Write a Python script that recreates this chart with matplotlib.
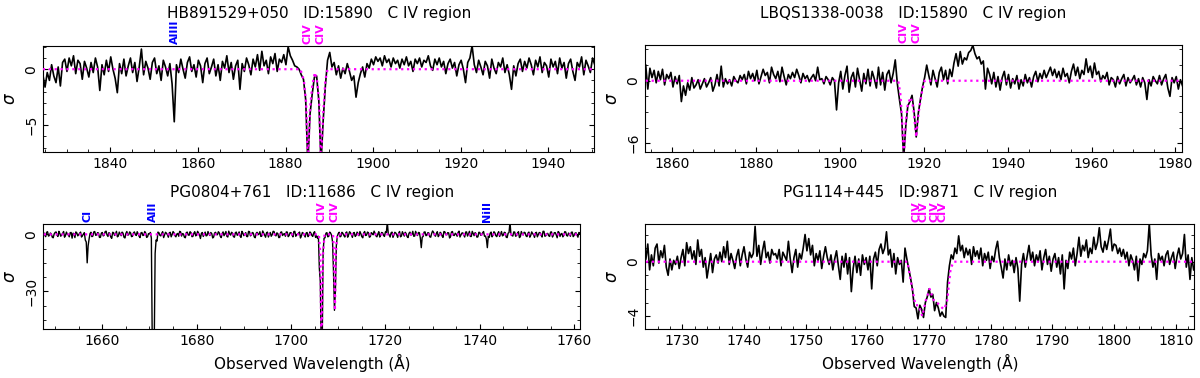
import numpy as np
import matplotlib
matplotlib.use('Agg')
import matplotlib.pyplot as plt
from matplotlib.ticker import MultipleLocator, AutoMinorLocator
import matplotlib.transforms as mtransforms

# HB891529+050 (top left), sampled every 0.5 A from 1824.6
tl_start, tl_step = 1824.6, 0.5
tl_flux = [-0.5, -1.6, -0.3, -1.0, 0.4, -0.6, -1.2, 0.2, -1.5, 0.6,
           0.9, -0.2, 1.0, 0.3, 1.2, -0.4, 0.8, 0.5, -0.9, 0.7,
           0.1, -0.7, 0.6, -0.3, 1.0, 0.2, -1.9, 0.4, -0.5, 0.8,
           -0.2, 1.1, 0.0, -0.8, -2.1, 0.5, -0.4, 0.9, -0.6, 0.3,
           1.0, -0.3, 0.6, -1.1, 0.2, 1.8, -0.5, 0.7, 0.1, -0.9,
           0.6, 1.0, -0.4, 0.3, -1.0, 0.8, 0.2, -0.6, 0.5, -1.3,
           -4.7, 0.4, -0.3, 0.9, 0.0, -0.8, 0.6, 1.1, -0.2, 0.4,
           -0.7, 0.8, 0.3, -1.2, 0.5, 1.0, -0.4, 0.2, 0.9, -0.6,
           0.4, -1.0, 0.7, 0.1, 1.2, -0.3, 0.6, -0.9, 0.3, 0.8,
           -1.8, 0.5, -0.2, 1.0, 0.4, -0.5, 0.9, 0.2, 1.3, -0.1,
           1.6, 0.3, 0.8, -0.4, 1.1, 0.5, 1.4, -0.2, 0.9, 0.6,
           1.3, 0.4, 2.0, 1.2, 0.8,
           0.3, 0.2, 0.0, -0.5, -0.9, -2.7, -8.5, -4.0, -2.2, -0.7,
           -0.6, -2.8, -8.5, -4.6, -1.5, 0.8, 1.5, 0.2,
           0.6, -0.5, 0.3, -0.8, 0.1, -0.4, 0.5, -0.2, -1.0, -0.6,
           -2.5, -1.2, -0.4, 0.2, -0.7, 0.5, 0.1, 0.9, 0.4, 1.1,
           0.7, 1.0, 0.3, 1.2, 0.6, 0.9, 0.2, 1.0, 0.5, 0.8,
           0.1, 0.9, 0.4, 1.1, 0.3, 0.7, -0.2, 0.9, 0.5, 1.0,
           0.2, 0.8, 0.6, 1.2, 0.3, -0.1, 0.9, 0.4, 1.0, 0.2,
           0.7, -0.4, 0.5, 0.9, 0.1, 0.6, -0.6, 0.4, 0.8, 0.0,
           -1.2, 0.6, 1.0, 2.1, 0.4, -0.3, 0.8, 0.2, -0.5, 0.7,
           0.3, -0.8, 0.9, 0.1, -0.4, 0.6, 0.2, 1.0, -0.3, 0.4,
           -0.5, -1.8, 0.3, -0.6, 0.5, 0.9, -0.2, 0.7, 0.1, 1.0,
           0.4, -0.5, 0.8, 0.2, 1.1, -0.3, 0.6, 0.3, -0.7, 0.9,
           0.2, 0.7, -0.4, 1.0, 0.1, 0.6, -0.8, 0.5, 0.9, -0.2,
           -1.0, 0.6, 0.2, 1.1, -0.5, 0.8, 0.3, -0.3, 1.0, 0.4]
tl_fit_x = [1824.6, 1883.4, 1884.2, 1884.7, 1885.1, 1885.6, 1886.1, 1886.7,
            1887.3, 1887.7, 1888.1, 1888.6, 1889.1, 1889.6, 1950.6]
tl_fit_y = [0, 0, -1.0, -3.0, -8.5, -3.5, -1.5, -0.3,
            -1.2, -3.2, -8.5, -4.0, -1.0, 0, 0]

# LBQS1338-0038 (top right), every 0.5 A from 1853.7
tr_start, tr_step = 1853.7, 0.5
tr_flux = [1.5, -0.8, 1.2, 0.3, 1.0, -0.2, 0.9, 0.1, 1.1, -0.4,
           0.6, 0.2, 0.8, -0.6, 0.4, -0.3, 0.5, -2.0, -0.5, -1.4,
           -0.2, -0.9, 0.3, -0.7, -0.4, 0.1, -0.8, -0.3, 0.2, -0.6,
           -0.2, 0.3, -1.0, -0.4, 0.6, -0.5, 1.4, -0.6, 0.2, -0.3,
           0.1, -0.5, 0.4, 0.0, -0.2, 0.5, 0.1, 0.6, -0.3, 0.9,
           0.2, 0.7, 0.0, 1.0, -0.3, 0.4, 1.1, 0.5, 0.8, -0.2,
           1.3, 0.6, 0.2, 0.9, -0.1, 1.3, 0.4, -0.4, 0.6, 0.2,
           0.8, 0.3, 1.1, 0.5, -0.2, 0.7, 0.2, 0.5, -0.1, 0.3,
           0.6, 0.0, 1.3, 0.1, 0.2, -0.3, 0.4, 0.1, -0.4, 0.3,
           0.0, -2.8, -0.2, 0.9, -0.8, 0.5, 1.4, -1.1, 0.3, 0.8,
           -0.6, 1.2, 0.1, -1.0, 0.7, -0.3, 1.1, -0.5, 0.9, 0.2,
           -0.7, 1.3, -0.4, 0.8, -0.9, 0.6, 1.0, -0.2, 0.7, 2.0,
           -0.3, -1.8, -3.2, -7.5, -4.4, -2.4, -2.0, -1.4, -3.0, -5.4,
           -3.1, -1.8, -0.6, 0.3, 1.5,
           0.5, -0.4, 1.0, 0.2, -0.6, 0.8, 1.3, 0.1, 1.0, -0.3,
           1.1, 0.4, 1.7, 2.6, 1.4, 2.8, 1.6, 2.2, 2.0, 2.7,
           2.9, 3.4, 2.6, 2.1, 2.3, 1.6, 1.9, -0.8, 1.2, 0.6,
           -0.3, 0.8, -0.6, 0.4, -0.9, 0.3, 0.9, -0.4, 0.6, -0.7,
           0.2, -0.3, 0.5, -0.8, 0.1, -0.5, 0.6, -0.2, 0.3, -0.6,
           0.4, 0.9, -0.1, 0.7, 0.2, 1.0, 0.3, 0.8, 1.3, 0.5,
           1.1, 0.3, 0.9, 0.1, 1.2, 0.4, 0.7, -0.2, 0.9, 1.6,
           0.5, 1.3, 0.2, 1.0, 0.6, 2.1, 0.8, 1.4, 0.3, 1.7,
           0.6, 0.9, -0.1, 0.5, 0.2, 0.8, -0.4, 0.3, 0.1, -0.6,
           0.4, -0.3, 0.2, 0.6, -0.5, 0.3, -0.2, 0.1, 0.5, -0.4,
           0.2, -0.6, 0.3, -0.2, -1.8, 0.1, -0.5, 0.4, 0.0, -0.3,
           0.5, -0.4, 0.2, 0.6, -0.7, -1.5, 0.3, -0.2, 0.4, -0.8, 0.1, -0.5]
tr_fit_x = [1853.7, 1913.9, 1914.4, 1914.8, 1915.2, 1915.7, 1916.2, 1916.9,
            1917.5, 1918.2, 1918.8, 1919.5, 1920.2, 1981.7]
tr_fit_y = [0, 0, -1.2, -3.5, -7.5, -4.0, -2.2, -1.6,
            -2.6, -5.4, -3.0, -1.2, 0, 0]

# PG0804+761 (bottom left), every 0.2 A from 1647.6:
# bl_flux_a holds 1647.6, 1648.0, ... and bl_flux_b the points in between
bl_start, bl_step = 1647.6, 0.2
bl_flux_a = [0.8, -1.2, 1.4, -0.6, 0.3, -1.8, 1.0, -0.4, 1.6, -1.0,
             0.5, -1.5, 1.2, -0.2, 0.9, -2.0, 0.4, 1.3, -0.8, 0.6,
             -1.4, 0.2, -3.0, -15.0, -2.5, 1.1, -0.9, 1.5, -0.3, 0.7,
             -1.6, 1.0, -0.5, 1.7, -1.1, 0.4, -2.1, 0.9, 0.1, -1.3,
             1.2, -0.7, 0.6, -1.9, 1.5, -0.2, 0.8, -1.0, 1.3, -0.6,
             0.3, -1.7, 1.0, -0.4, 0.7, -1.2, 0.2, -2.0, -60.0, -10.0,
             -3.5, 0.9, -0.8, 1.4, -0.3, 0.6, -1.5, 1.1, -0.1, 0.8,
             -1.3, 0.5, 1.6, -0.9, 0.2, -1.8, 1.2, -0.5, 0.9, -1.1,
             1.4, -0.3, 0.7, -2.2, 1.0, 0.1, -0.8, 1.5, -0.6, 0.4,
             -1.4, 1.1, -0.2, 0.8, -1.7, 1.3, 0.3, -1.0, 1.7, -0.4,
             0.6, -1.5, 1.2, 0.0, -0.9, 1.6, -0.7, 0.9, -1.2, 1.4,
             -0.3, 0.7, -1.8, 1.1, 0.2, -1.1, 1.8, -0.5, 0.8, -1.4,
             1.0, -0.2, 1.5, -0.8, 0.4, -1.6, 1.3, 0.1, -1.0, 1.2,
             -0.6, 0.9, -1.3, 1.6, -0.1, 0.6, -1.9, 1.0, -0.4, 0.7,
             -1.2, 1.3, -0.5, 0.8, -1.6, -2.0, -18.0, -60.0, -9.0, -1.8,
             0.9, -1.0, 0.6, -4.0, -40.0, -6.0, 0.4, -1.3, 1.1, -0.6,
             0.8, -1.5, 1.4, -0.2, 0.7, -1.1, 1.2, -0.7, 0.3, -1.8,
             1.5, -0.4, 0.9, -1.2, 0.5, 1.7, -0.8, 0.2, -1.4, 1.0,
             -0.5, 1.3, 6.5, -0.3, 0.8, -1.6, 1.1, -0.2, 0.6, -1.3,
             1.4, -0.9, 0.4, -1.7, 1.2, 0.0, -1.0, 1.6, -0.6, 0.9,
             -7.0, -1.1, 1.3, -0.4, 0.7, -1.5, 1.8, -0.3, 0.5, -1.2,
             1.1, -0.8, 1.5, -0.1, 0.9, -1.9, 1.2, -0.5, 0.6, -1.0,
             1.7, -0.3, 0.8, -1.4, 1.3, 0.2, -1.1, 1.6, -0.7, 0.4,
             -1.3, 1.0, -0.2, 1.5, -0.9, -7.0, -1.6, 1.2, -0.4, 0.8,
             -1.2, 1.4, 0.1, -0.8, 1.1, -1.5, 0.6, 6.5, -0.6, 1.3,
             -1.0, 0.7, -1.7, 1.5, -0.3, 0.9, -1.2, 1.2, -0.5, 0.4,
             -1.6, 1.1, -0.1, 0.8, -1.4, 1.6, -0.7, 0.5, -1.1, 1.3,
             -0.4, 0.9, -1.8, 1.0, 0.2, -1.3, 1.4, -0.6, 0.7, -1.0,
             1.2, -0.5, 0.8, -1.5, 0.6]
bl_flux_b = [-0.4, 1.1, -0.9, 0.7, -1.5, 0.2, 1.3, -1.1, 0.5, -0.3,
             1.5, -0.6, 0.1, -1.3, 1.0, 0.6, -1.7, 0.8, -0.2, 1.2,
             -0.7, 0.9, -4.0, -6.0, 0.4, -1.2, 1.3, -0.5, 0.9, -1.6,
             0.6, -0.8, 1.4, -0.3, 0.9, -1.4, 1.1, -0.6, 1.6, -0.9,
             0.3, 1.2, -1.5, 0.5, -0.4, 1.3, -1.2, 0.7, 0.0, 1.4,
             -1.0, 0.8, -0.6, 1.5, -1.6, 0.4, 1.0, -60.0, -60.0, -3.0,
             1.2, -0.5, 0.6, -1.7, 1.1, -0.2, 0.8, -1.3, 1.5, -0.7,
             0.2, -1.0, 1.3, 0.4, -1.5, 0.9, -0.3, 1.4, -1.2, 0.6,
             -0.8, 1.6, -0.4, 0.5, -1.1, 1.2, -0.6, 0.3, 1.0, -1.9,
             0.7, -0.1, 1.4, -1.0, 0.4, -0.7, 1.5, -1.4, 0.2, 1.1,
             -1.2, 0.9, -0.5, 1.3, -1.6, 0.6, 0.1, -1.1, 1.6, -0.8,
             1.0, -1.3, 0.5, -0.2, 1.4, -0.9, 0.7, -1.5, 1.2, 0.0,
             -1.0, 1.6, -0.4, 0.8, -1.7, 1.1, -0.6, 0.4, 1.3, -1.2,
             0.9, -0.3, 1.5, -1.0, 0.2, 1.2, -0.8, 0.6, -1.4, 1.0,
             -0.5, 0.7, -1.1, 1.4, -0.7, -1.0, -25.0, -60.0, -2.0, 0.6,
             -1.3, 1.2, -0.5, -20.0, -30.0, -1.0, 1.1, -0.9, 0.5, -1.4,
             1.3, -0.3, 0.8, -1.6, 1.0, -0.5, 0.4, 1.5, -1.2, 0.7,
             -0.6, 1.2, -1.5, 0.9, -0.2, 0.6, -1.3, 1.4, -0.4, 0.8,
             -1.1, 1.0, 0.5, -1.4, 1.2, -0.3, 0.7, -1.6, 1.5, -0.8,
             0.3, 1.1, -1.2, 0.6, -0.4, 1.6, -0.9, 0.2, 1.0, -2.0,
             -1.5, 1.2, -0.7, 0.9, -1.3, 0.5, 1.1, -1.0, 1.4, -0.4,
             0.6, -1.6, 1.3, -0.2, 0.8, -1.2, 1.5, -0.6, 0.1, 1.0,
             -1.4, 0.7, -0.3, 1.2, -0.9, 1.6, -1.1, 0.4, 0.9, -1.5,
             1.1, -0.5, 0.8, -1.0, -2.5, -1.0, 0.6, -1.3, 1.4, -0.7,
             0.5, -1.1, 1.5, -0.4, 0.9, -1.7, 1.0, 0.0, -0.9, 1.2,
             -0.6, 1.4, -1.2, 0.3, 1.1, -0.8, 0.6, -1.5, 1.3, -0.2,
             0.8, -1.3, 1.0, -0.5, 1.6, -1.0, 0.4, -0.7, 1.2, -1.4,
             0.9, -0.3, 1.5, -1.1, 0.5, -0.6, 1.3, -0.9, 0.2, 1.1,
             -1.2, 0.7, -0.4, 1.0]
bl_fit_x = [1647.6, 1705.9, 1706.2, 1706.45, 1706.8, 1707.1,
            1708.9, 1709.1, 1709.3, 1709.5, 1709.8, 1761.2]
bl_fit_y = [0, 0, -10.0, -60.0, -10.0, 0,
            0, -10.0, -40.0, -10.0, 0, 0]

# PG1114+445 (bottom right), every 0.3 A from 1724.1
br_start, br_step = 1724.1, 0.3
br_flux = [0.2, 1.3, -0.6, 0.5, -0.3, 1.0, 1.3, -0.1, 0.8, 0.3,
           1.2, -0.4, -1.0, 0.2, -0.6, 0.1, -0.2, 0.4, -0.5, 0.3,
           0.9, -0.3, 1.4, 0.6, 1.1, 0.2, 0.8, -0.2, 1.6, 0.4,
           0.9, -0.4, 0.3, -1.2, -0.3, 0.6, -0.8, 0.2, 0.5, -0.1,
           0.7, 0.0, 1.1, 0.3, 1.5, -0.2, 0.6, 0.1, -0.5, 0.4,
           0.9, -0.3, 0.5, 1.1, 0.2, -0.4, 0.7, 0.3, 0.6, 2.6,
           0.4, 1.2, -0.2, 0.8, 1.5, 0.3, 0.7, -0.1, 0.9, 0.5,
           0.6, 0.2, 0.9, -0.3, 0.7, 0.4, 0.1, 1.5, 0.2, -0.8,
           0.3, 0.9, -0.4, 0.6, 0.2, 1.0, 2.0, 0.8, 1.7, 0.5,
           1.2, -0.3, 0.6, 0.1, 0.8, -0.5, 0.4, 1.1, 0.3, -0.2,
           0.5, -0.6, 0.2, 0.8, -0.3, -1.3, 0.4, -0.4, 0.6, -0.9,
           0.3, -2.2, -0.5, 0.4, -0.8, 0.2, -1.0, 0.5, -0.2, 0.3,
           -0.6, 0.4, -2.0, 0.2, 0.7, -0.3, 0.9, 1.3, 0.6, 1.0,
           2.2, 0.5, 0.9, -0.4, 0.6, -0.9, 0.3, -0.2, 0.1, -1.5,
           1.0, 0.2, -0.5, -1.2, -2.0, -3.3, -3.4, -4.2, -3.2, -3.5,
           -4.1, -3.0, -2.6, -2.0, -2.6, -2.4, -3.6, -3.0, -3.4, -4.0,
           -3.7, -4.0, -4.1, -1.5, -0.3, 0.5, 0.2, 1.0, 0.6, 1.9,
           0.8, 1.2, 0.3, 1.0, 0.5, 0.9, -0.2, 1.1, 0.4, 0.8,
           0.2, 1.0, -0.3, 0.6, 0.1, 0.7, -0.5, 0.4, 0.0, 0.9,
           1.5, 0.3, -0.4, -1.2, 0.2, -0.6, 0.5, -0.3, 0.1, -0.8,
           0.3, -0.5, -2.9, -0.2, 0.6, -0.4, 0.4, 1.2, 0.1, 0.7,
           -0.3, 0.5, 0.0, 0.8, -0.6, 0.3, 0.9, -0.2, 0.4, -0.7,
           0.2, 0.6, -0.4, 0.3, -0.9, 0.5, -2.0, 0.1, -0.5, 0.7,
           0.2, 1.0, -0.3, 0.6, 1.8, 0.4, 1.2, 0.8, 1.6, 0.3,
           1.0, 0.6, 1.8, 0.9, 1.4, 2.5, 1.1, 0.7, 1.5, 0.9,
           1.6, 2.4, 0.8, 1.3, 1.2, 0.6, 1.0, 0.4, 0.9, 0.2,
           0.7, -0.3, 0.5, 0.1, -0.6, 0.4, -1.4, 0.2, -0.2, 0.6,
           0.3, 0.8, 2.8, 0.5, -0.4, 0.2, -1.3, 0.6, 0.1, 0.4,
           -0.3, 0.5, 0.8, -0.2, 0.3, 0.7, -0.5, 0.4, 1.0, 0.2,
           0.6, 2.0, -0.4, 0.5, -1.3, 0.3, -0.6]
br_fit_x = [1724.1, 1766.5, 1767.2, 1767.8, 1768.3, 1768.9, 1769.5, 1770.1,
            1770.7, 1771.3, 1771.9, 1772.4, 1772.9, 1773.5, 1774.0, 1812.9]
br_fit_y = [0, 0, -1.8, -3.2, -3.2, -4.0, -2.8, -2.0,
            -2.8, -3.0, -3.3, -3.5, -3.0, -0.5, 0, 0]

# line identifications (wavelength, name, colour)
tl_lines = [(1854.7, 'AlIII', 'blue'), (1885.0, 'CIV', 'magenta'), (1888.0, 'CIV', 'magenta')]
tr_lines = [(1915.1, 'CIV', 'magenta'), (1918.2, 'CIV', 'magenta')]
bl_lines = [(1656.9, 'CI', 'blue'), (1670.8, 'AlII', 'blue'), (1706.5, 'CIV', 'magenta'),
            (1709.3, 'CIV', 'magenta'), (1741.6, 'NiII', 'blue')]
br_lines = [(1767.9, 'CIV', 'magenta'), (1769.1, 'CIV', 'magenta'),
            (1770.9, 'CIV', 'magenta'), (1772.1, 'CIV', 'magenta')]

# interleave the two bottom-left sample sets
bl_flux = np.empty(len(bl_flux_a) + len(bl_flux_b))
bl_flux[0::2] = bl_flux_a
bl_flux[1::2] = bl_flux_b

panels = [
    dict(title='HB891529+050   ID:15890   C IV region', start=tl_start, step=tl_step, flux=tl_flux,
         fx=tl_fit_x, fy=tl_fit_y, lines=tl_lines, xlim=(1824.7, 1950.5), ylim=(-7.4, 2.1),
         xmaj=20, ymaj=5, pos=[43.3, 45.7, 594.3, 152.0], xlabel=False, lw=1.2),
    dict(title='LBQS1338-0038   ID:15890   C IV region', start=tr_start, step=tr_step, flux=tr_flux,
         fx=tr_fit_x, fy=tr_fit_y, lines=tr_lines, xlim=(1853.6, 1981.5), ylim=(-6.84, 3.4),
         xmaj=20, ymaj=6, pos=[645.3, 45.3, 1181.7, 152.0], xlabel=False, lw=1.2),
    dict(title='PG0804+761   ID:11686   C IV region', start=bl_start, step=bl_step, flux=bl_flux,
         fx=bl_fit_x, fy=bl_fit_y, lines=bl_lines, xlim=(1647.5, 1761.3), ylim=(-50, 5.3),
         xmaj=20, ymaj=30, pos=[43.3, 224.3, 580.3, 329.3], xlabel=True, lw=1.0),
    dict(title='PG1114+445   ID:9871   C IV region', start=br_start, step=br_step, flux=br_flux,
         fx=br_fit_x, fy=br_fit_y, lines=br_lines, xlim=(1724.0, 1813.0), ylim=(-4.97, 2.75),
         xmaj=10, ymaj=4, pos=[645.3, 224.3, 1194.3, 329.3], xlabel=True, lw=1.2),
]

W, H = 1200, 378
fig = plt.figure(figsize=(W / 100, H / 100), dpi=100)

for p in panels:
    x0, y0, x1, y1 = p['pos']
    ax = fig.add_axes([x0 / W, 1 - y1 / H, (x1 - x0) / W, (y1 - y0) / H])
    wave = p['start'] + p['step'] * np.arange(len(p['flux']))
    ax.plot(wave, p['flux'], color='black', lw=p['lw'], zorder=2)
    ax.plot(p['fx'], p['fy'], color='magenta', lw=1.6, ls=':', zorder=3)
    ax.set_xlim(*p['xlim'])
    ax.set_ylim(*p['ylim'])
    ax.xaxis.set_major_locator(MultipleLocator(p['xmaj']))
    ax.yaxis.set_major_locator(MultipleLocator(p['ymaj']))
    ax.xaxis.set_minor_locator(AutoMinorLocator())
    ax.yaxis.set_minor_locator(AutoMinorLocator())
    ax.tick_params(which='both', direction='in', right=True, top=False, labelsize=10)
    for lab in ax.get_yticklabels():
        lab.set_rotation(90)
        lab.set_va('center')
    ax.set_ylabel(r'$\sigma$', fontsize=12, labelpad=4)
    ax.set_title(p['title'], fontsize=11, pad=20)
    if p['xlabel']:
        ax.set_xlabel('Observed Wavelength (\u00c5)', fontsize=11)
    trans = mtransforms.blended_transform_factory(ax.transData, ax.transAxes)
    for lam, name, col in p['lines']:
        ax.text(lam, 1.02, name, transform=trans, rotation=90, ha='center', va='bottom',
                color=col, fontsize=8, fontweight='bold', clip_on=False)

fig.savefig('out.png', dpi=100)
